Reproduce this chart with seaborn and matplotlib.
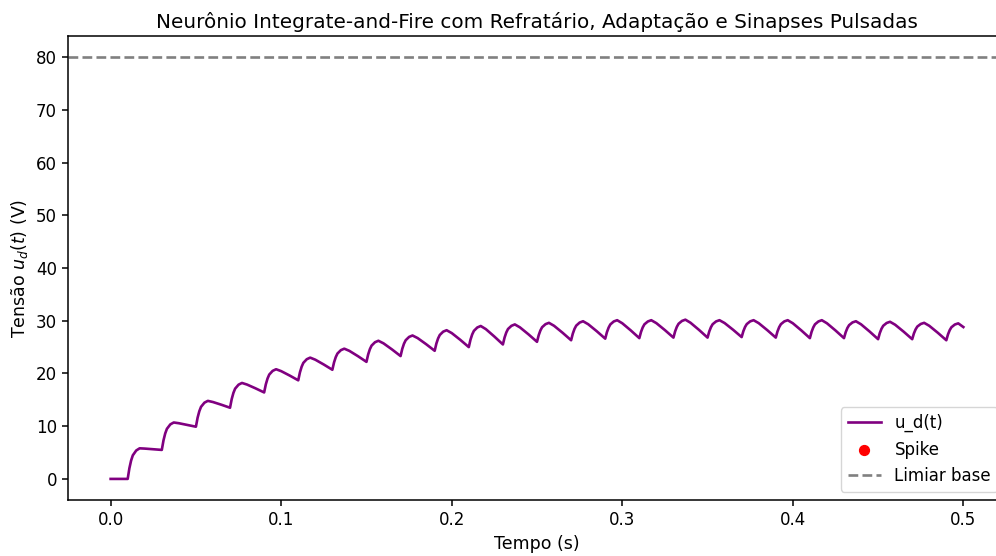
import numpy as np
import pandas as pd
import matplotlib
matplotlib.use("Agg")
import matplotlib.pyplot as plt
import seaborn as sns

# Synaptic pulse onsets (s) and the sampling offsets used inside each inter-pulse cycle
pulse_onsets = [0.01 + 0.02 * k for k in range(25)]
cycle_offsets = [0.000, 0.001, 0.002, 0.003, 0.005, 0.007, 0.010, 0.015]

# Membrane voltage u_d(t) (V) sampled at onset + offset, one row per cycle
u_cycles = [
    [0.0, 2.03, 3.48, 4.47, 5.39, 5.80, 5.75, 5.63],
    [5.5, 7.32, 8.62, 9.50, 10.34, 10.70, 10.56, 10.24],
    [9.9, 11.62, 12.84, 13.67, 14.46, 14.80, 14.58, 14.06],
    [13.5, 15.15, 16.32, 17.12, 17.87, 18.20, 17.89, 17.17],
    [16.4, 17.94, 19.04, 19.79, 20.49, 20.80, 20.44, 19.60],
    [18.7, 20.21, 21.28, 22.01, 22.70, 23.00, 22.61, 21.69],
    [20.7, 22.10, 23.10, 23.78, 24.42, 24.70, 24.28, 23.28],
    [22.2, 23.60, 24.60, 25.28, 25.92, 26.20, 25.71, 24.55],
    [23.3, 24.67, 25.64, 26.30, 26.93, 27.20, 26.71, 25.55],
    [24.3, 25.67, 26.64, 27.30, 27.93, 28.20, 27.66, 26.38],
    [25.0, 26.40, 27.40, 28.08, 28.72, 29.00, 28.41, 27.00],
    [25.5, 26.83, 27.78, 28.43, 29.03, 29.30, 28.74, 27.42],
    [26.0, 27.26, 28.16, 28.77, 29.35, 29.60, 29.04, 27.72],
    [26.3, 27.56, 28.46, 29.07, 29.65, 29.90, 29.34, 28.02],
    [26.6, 27.83, 28.70, 29.30, 29.86, 30.10, 29.52, 28.16],
    [26.7, 27.89, 28.74, 29.32, 29.86, 30.10, 29.54, 28.22],
    [26.8, 27.99, 28.84, 29.42, 29.96, 30.20, 29.62, 28.26],
    [26.8, 27.96, 28.78, 29.34, 29.87, 30.10, 29.56, 28.28],
    [26.9, 28.02, 28.82, 29.36, 29.88, 30.10, 29.54, 28.22],
    [26.8, 27.96, 28.78, 29.34, 29.87, 30.10, 29.52, 28.16],
    [26.7, 27.89, 28.74, 29.32, 29.86, 30.10, 29.52, 28.16],
    [26.7, 27.82, 28.62, 29.16, 29.68, 29.90, 29.32, 27.96],
    [26.5, 27.66, 28.48, 29.04, 29.57, 29.80, 29.24, 27.92],
    [26.5, 27.59, 28.36, 28.89, 29.38, 29.60, 29.04, 27.72],
    [26.3, 27.42, 28.22, 28.76, 29.28, 29.50, 28.80],
]

# Resting segment before the first pulse
t_rest = [0.0]
u_rest = [0.0]

threshold_base = 80.0
spike_times = []
spike_values = []

t_all = list(t_rest)
u_all = list(u_rest)
for onset, row in zip(pulse_onsets, u_cycles):
    for off, u in zip(cycle_offsets, row):
        t_all.append(round(onset + off, 4))
        u_all.append(u)

df = pd.DataFrame({"t": t_all, "u": u_all})

fig = plt.figure(figsize=(9.96, 5.56), dpi=100)
ax = fig.add_axes([68 / 996, 56 / 556, 938 / 996, 464 / 556])

sns.lineplot(data=df, x="t", y="u", ax=ax, color="purple", linewidth=1.9,
             estimator=None, sort=False, label="u_d(t)")
ax.scatter(spike_times, spike_values, color="red", s=50, label="Spike")
ax.axhline(threshold_base, color="gray", linestyle="--", linewidth=1.9, label="Limiar base")

ax.set_xlim(-0.025, 0.525)
ax.set_ylim(-4, 84)
ax.set_xticks([0.0, 0.1, 0.2, 0.3, 0.4, 0.5])
ax.set_xticklabels(["0.0", "0.1", "0.2", "0.3", "0.4", "0.5"])
ax.set_yticks([0, 10, 20, 30, 40, 50, 60, 70, 80])
ax.tick_params(labelsize=12, width=1.1, length=4.5)
for sp in ax.spines.values():
    sp.set_linewidth(1.1)

ax.set_title("Neurônio Integrate-and-Fire com Refratário, Adaptação e Sinapses Pulsadas", fontsize=14.4)
ax.set_xlabel("Tempo (s)", fontsize=12.5)
ax.set_ylabel("Tensão $u_d(t)$ (V)", fontsize=12.5)
ax.legend(loc="lower right", fontsize=12)

fig.savefig("out.png", dpi=100)
